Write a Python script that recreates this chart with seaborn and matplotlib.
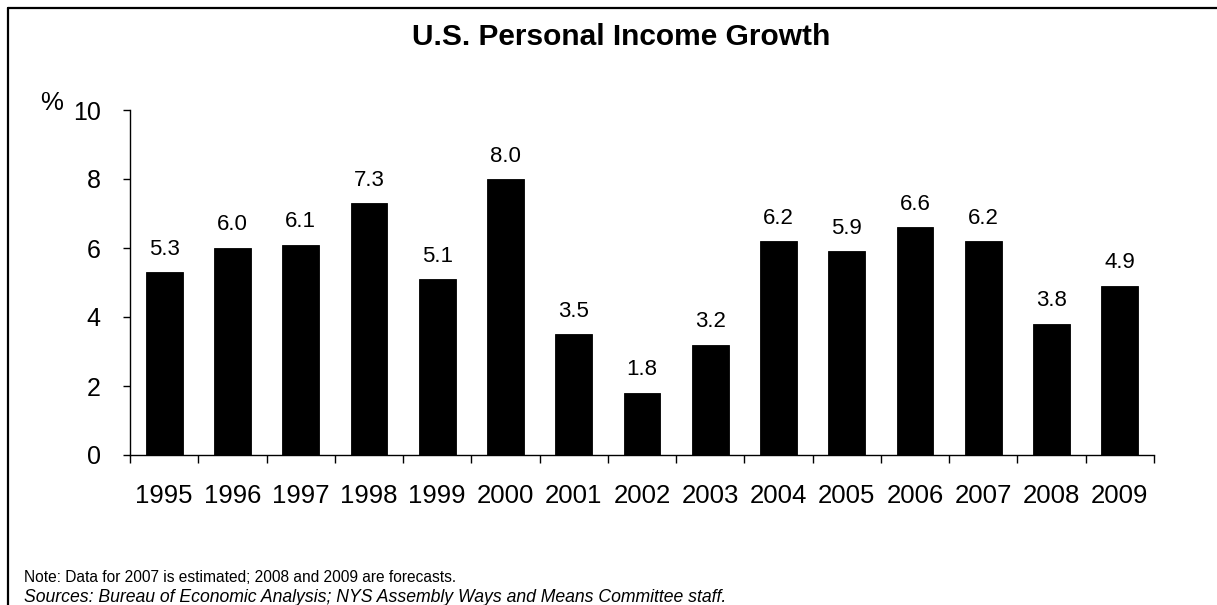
import matplotlib
matplotlib.use("Agg")
import matplotlib.pyplot as plt
from matplotlib.lines import Line2D
from matplotlib.ticker import FixedLocator, NullFormatter
import seaborn as sns
import pandas as pd

years = ["1995", "1996", "1997", "1998", "1999", "2000", "2001", "2002",
         "2003", "2004", "2005", "2006", "2007", "2008", "2009"]
growth = [5.3, 6.0, 6.1, 7.3, 5.1, 8.0, 3.5, 1.8, 3.2, 6.2, 5.9, 6.6, 6.2, 3.8, 4.9]
y_ticks = [0, 2, 4, 6, 8, 10]

title = "U.S. Personal Income Growth"
note = "Note: Data for 2007 is estimated; 2008 and 2009 are forecasts."
sources = "Sources: Bureau of Economic Analysis; NYS Assembly Ways and Means Committee staff."

df = pd.DataFrame({"year": years, "growth": growth})

sns.set_theme(style="white")
plt.rcParams["font.family"] = ["Liberation Sans", "DejaVu Sans"]
plt.rcParams["text.color"] = "black"

W, H = 1217, 605
fig = plt.figure(figsize=(W / 100, H / 100), dpi=100)
fig.patch.set_facecolor("white")
ax = fig.add_axes([130 / W, 1 - 455 / H, (1154 - 130) / W, (455 - 110) / H])
ax.set_facecolor("white")

sns.barplot(data=df, x="year", y="growth", order=years, color="black",
            saturation=1, width=0.54, ax=ax, edgecolor="black", linewidth=0.6)

ax.bar_label(ax.containers[0], labels=[f"{v:.1f}" for v in growth],
             padding=9, fontsize=16, color="black")

ax.set_xlim(-0.5, len(years) - 0.5)
ax.set_ylim(0, 10)
ax.set_yticks(y_ticks)
ax.set_yticklabels([str(t) for t in y_ticks])
ax.set_xlabel("")
ax.set_ylabel("")

for side in ("top", "right"):
    ax.spines[side].set_visible(False)
for side in ("left", "bottom"):
    ax.spines[side].set_color("black")
    ax.spines[side].set_linewidth(1.0)

# category separators as minor ticks on the x axis
ax.xaxis.set_minor_locator(FixedLocator([i - 0.5 for i in range(len(years) + 1)]))
ax.xaxis.set_minor_formatter(NullFormatter())
ax.tick_params(axis="x", which="major", length=0, pad=21, labelsize=18.5,
               colors="black")
ax.tick_params(axis="x", which="minor", bottom=True, length=6, width=1.0,
               direction="out", color="black")
ax.tick_params(axis="y", which="major", left=True, length=5, width=1.0,
               direction="out", pad=16, labelsize=18, colors="black")

fig.text(52 / W, 1 - 103 / H, "%", fontsize=18.5, ha="center", va="center")
fig.text(621 / W, 1 - 37 / H, title, fontsize=21.5,
         fontweight="bold", ha="center", va="center", color="black")
fig.text(24 / W, 1 - 577 / H, note, fontsize=11.2, ha="left", va="center")
fig.text(24 / W, 1 - 597 / H, sources, fontsize=12.7, style="italic",
         ha="left", va="center")

# outer frame: top and left edges
fig.add_artist(Line2D([8 / W, 1], [1 - 8 / H, 1 - 8 / H], transform=fig.transFigure,
                      color="black", linewidth=1.6))
fig.add_artist(Line2D([8 / W, 8 / W], [0, 1 - 8 / H], transform=fig.transFigure,
                      color="black", linewidth=1.6))

fig.savefig("out.png", dpi=100, facecolor="white")
